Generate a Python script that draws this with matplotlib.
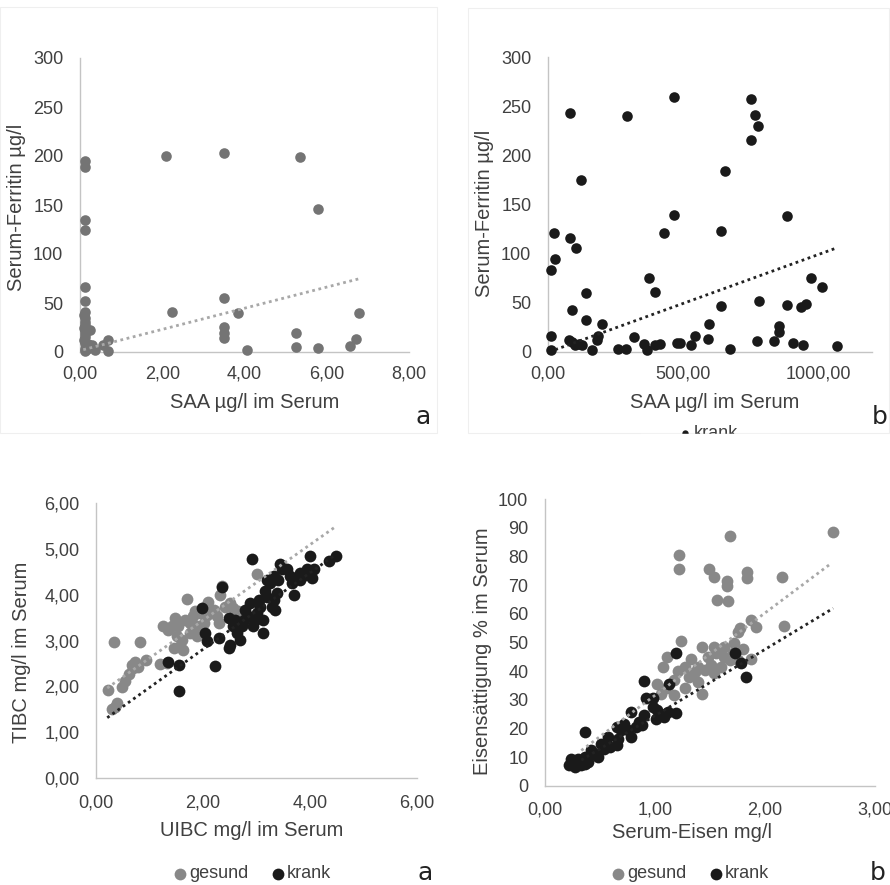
import matplotlib.pyplot as plt
from matplotlib.patches import Rectangle
import numpy as np

plt.rcParams['font.family'] = ['Liberation Sans', 'DejaVu Sans']

# ---- panel a (top left): SAA vs ferritin, gesund
a_saa = [0.12, 0.12, 0.12, 0.12, 0.12, 0.12, 0.12,
         0.10, 0.11, 0.12, 0.13, 0.10, 0.12, 0.11, 0.13, 0.10, 0.12, 0.14, 0.11, 0.13,
         0.18, 0.24, 0.20, 0.28, 0.36, 0.57, 0.69, 0.69,
         2.08, 2.24, 3.51, 3.51, 3.51, 3.51, 3.51, 3.83, 4.07, 5.34, 5.25, 5.25,
         5.79, 5.79, 6.56, 6.70, 6.79]
a_fer = [194.5, 189, 135, 124.6, 66.5, 52, 41,
         38, 35, 31, 28, 25, 21, 18, 15, 12, 9, 6, 3, 1,
         3, 22, 8, 7, 2, 7, 12, 1,
         200, 41, 203, 55.6, 26, 19.5, 14, 40, 2, 198.6, 19, 5,
         145.7, 4, 6, 13, 40]
a_trend = (10.79, 1.5, 0.08, 6.78)   # slope, intercept, x from, x to

# ---- panel b (top right): SAA vs ferritin, krank
b_saa = [12, 21, 25, 12, 12, 83, 80, 105, 90, 121, 142, 142, 76, 89, 99, 113, 126,
         163, 181, 185, 200, 258, 290, 292, 320, 354, 367, 375, 397, 397, 416, 431,
         465, 465, 478, 490, 530, 543, 591, 597, 642, 642, 654, 675, 753, 765, 778,
         753, 780, 774, 836, 854, 854, 885, 885, 906, 943, 937, 956, 975, 1013, 1070]
b_fer = [83, 121, 95, 16, 2.4, 243, 116, 106, 42.5, 175, 60, 33, 12, 10, 7, 8.5, 7,
         1.7, 12, 16, 28, 3.4, 3.4, 240.5, 15, 8, 2.4, 75, 61, 7, 8.5, 121,
         259, 139, 9, 9, 7, 16, 13, 28, 47, 123, 184, 3.4, 257.5, 241.5, 229.6,
         216, 52, 11, 11, 26, 20, 138, 48, 9.5, 7, 46, 49, 75, 66, 6]
b_trend = (0.0993, -0.3, 27, 1064)

# ---- panel c (bottom left): UIBC vs TIBC
c_g_uibc = [0.23, 0.34, 0.82, 0.29, 0.39, 0.35, 0.48, 0.54, 0.61, 0.67, 0.73, 0.70, 0.79,
            0.94, 1.20, 1.32, 1.35, 1.42, 1.48, 1.54, 1.51, 1.60, 1.63, 1.57, 1.70, 1.67,
            1.76, 1.82, 1.88, 1.95, 2.01, 2.04, 2.10, 2.20, 2.26, 2.29, 2.32, 2.35, 2.41,
            2.51, 2.57, 2.65, 3.01, 1.85, 2.07, 1.76, 1.88, 1.26, 1.45]
c_g_tibc = [1.93, 2.96, 2.96, 1.50, 1.63, 1.56, 1.99, 2.12, 2.28, 2.47, 2.54, 2.39, 2.43,
            2.58, 2.48, 2.50, 3.23, 3.31, 3.49, 3.32, 3.09, 3.01, 2.80, 2.87, 3.90, 3.45,
            3.38, 3.53, 3.31, 3.60, 3.38, 3.74, 3.85, 3.67, 3.53, 3.38, 4.00, 4.18, 3.74,
            3.82, 3.71, 3.64, 4.45, 3.64, 3.56, 3.16, 3.09, 3.31, 2.83]
c_k_uibc = [1.55, 1.55, 1.35, 2.23, 1.98, 2.04, 2.07, 2.29, 2.35, 2.48, 2.51, 2.48, 2.57,
            2.63, 2.69, 2.72, 2.79, 2.85, 2.91, 2.94, 2.98, 3.01, 3.04, 3.07, 3.13, 3.16,
            3.19, 3.26, 3.29, 3.32, 3.35, 3.38, 3.44, 3.47, 3.63, 3.66, 3.70, 3.82, 3.91,
            4.00, 4.04, 4.07, 4.35, 4.48, 2.76, 2.88, 2.60, 3.13, 3.32, 3.19, 3.41, 3.57,
            3.95, 3.82]
c_k_tibc = [1.90, 2.47, 2.54, 2.45, 3.72, 3.16, 2.98, 3.05, 4.17, 2.83, 2.91, 3.49, 3.31,
            3.16, 3.01, 3.31, 3.67, 3.53, 4.77, 3.31, 3.45, 3.60, 3.89, 3.74, 3.45, 4.07,
            4.33, 4.26, 3.74, 4.40, 3.67, 4.04, 4.66, 4.55, 4.40, 4.26, 4.00, 4.47, 4.44,
            4.84, 4.36, 4.55, 4.73, 4.85, 3.45, 3.82, 3.45, 3.16, 3.89, 3.96, 4.33, 4.55,
            4.55, 4.33]
c_g_trend = (0.825, 1.79, 0.21, 4.50)
c_k_trend = (0.834, 1.14, 0.21, 4.44)

# ---- panel d (bottom right): serum iron vs saturation
d_g_fe = [2.62, 1.68, 1.22, 1.22, 1.49, 1.54, 1.65, 1.65, 1.84, 1.84, 2.15, 1.56, 1.66,
          1.87, 1.92, 2.17, 1.77, 1.75, 1.72, 1.24, 1.87, 1.80, 1.05, 1.11, 1.17, 1.07,
          1.11, 1.27, 1.33, 1.39, 1.39, 1.43, 1.43, 1.48, 1.51, 1.55, 1.60, 1.63, 1.68,
          1.71, 1.21, 1.27, 1.31, 1.36, 1.45, 1.54, 1.02, 1.17, 1.54, 1.63, 1.75]
d_g_sat = [88.6, 87.2, 80.5, 75.5, 75.5, 72.9, 71.5, 69.7, 74.7, 72.3, 72.7, 64.8, 64.5,
           57.8, 55.5, 55.8, 55.1, 53.7, 49.7, 50.6, 44.4, 47.9, 32.2, 34.0, 31.6, 41.3,
           45.0, 34.0, 44.4, 41.3, 36.3, 32.2, 48.5, 45.0, 42.1, 46.2, 41.5, 48.5, 43.8,
           46.2, 40.2, 41.5, 38.0, 39.8, 40.3, 39.2, 35.7, 36.9, 48.5, 45.0, 43.8]
d_k_fe = [1.19, 1.73, 1.78, 1.83, 0.90, 1.13, 0.92, 0.98, 1.01, 1.08, 1.12, 1.19, 0.36,
          0.78, 0.90, 0.65, 0.66, 0.72, 0.78, 0.83, 0.65, 0.51, 0.48, 0.42, 0.36, 0.30,
          0.24, 0.27, 0.33, 0.39, 0.45, 0.57, 0.69, 0.75, 0.85, 0.88, 0.59, 0.54, 0.22,
          0.25, 0.30, 0.36, 1.02, 0.98]
d_k_sat = [46.4, 46.5, 42.7, 38.0, 36.5, 35.7, 30.5, 27.6, 23.5, 24.1, 25.8, 25.5, 18.8,
           25.8, 24.7, 20.6, 16.5, 21.7, 17.1, 20.6, 14.2, 14.8, 10.1, 12.4, 10.1, 7.8,
           9.5, 6.6, 7.2, 8.4, 11.3, 17.1, 19.4, 19.4, 22.4, 21.2, 13.6, 13.0, 7.2,
           8.4, 9.5, 7.8, 26.4, 30.5]
d_g_trend = (28.7, 2.9, 0.33, 2.60)
d_k_trend = (23.1, 1.4, 0.33, 2.62)

GRAY = '#888888'
BLACK = '#1a1a1a'
TXT = '#404040'

W, H = 890, 885


def box(l, r, t, b):
    return [l / W, 1 - b / H, (r - l) / W, (b - t) / H]


def pt(x, y):
    return (x / W, 1 - y / H)


def comma(v, d=2):
    return f'{v:.{d}f}'.replace('.', ',')


def setup(ax, xlim, ylim, xticks, yticks, ydec, xpad, ypad):
    ax.set_xlim(xlim)
    ax.set_ylim(ylim)
    ax.set_xticks(xticks)
    ax.set_yticks(yticks)
    ax.set_xticklabels([comma(v, 2) for v in xticks])
    ax.set_yticklabels([comma(v, ydec) for v in yticks])
    ax.tick_params(length=0, labelsize=13, labelcolor=TXT)
    ax.tick_params(axis='x', pad=xpad)
    ax.tick_params(axis='y', pad=ypad)
    for s in ['top', 'right']:
        ax.spines[s].set_visible(False)
    for s in ['left', 'bottom']:
        ax.spines[s].set_color('#c4c4c4')
        ax.spines[s].set_linewidth(1.0)


def trend(ax, coef, color):
    xs = np.array([coef[2], coef[3]])
    ax.plot(xs, coef[0] * xs + coef[1], color=color, lw=2.0,
            linestyle=(0, (1, 1.3)), zorder=4, clip_on=False)


fig = plt.figure(figsize=(8.9, 8.85), dpi=100)

# faint frames of the two upper images
fig.add_artist(Rectangle(pt(0, 433), 437 / W, 426 / H, fill=False,
                         ec='#efefef', lw=0.8))
fig.add_artist(Rectangle(pt(468, 433), 421 / W, 425 / H, fill=False,
                         ec='#efefef', lw=0.8))

# panel a
ax1 = fig.add_axes(box(80, 409, 58, 352))
setup(ax1, (0, 8), (0, 300), [0, 2, 4, 6, 8], range(0, 301, 50), 0, 10, 12)
ax1.scatter(a_saa, a_fer, s=58, color='#747474', zorder=3, clip_on=False, lw=0)
trend(ax1, a_trend, '#a8a8a8')
fig.text(*pt(255, 403), 'SAA µg/l im Serum', ha='center', va='center',
         fontsize=14.5, color=TXT)
fig.text(*pt(17, 207), 'Serum-Ferritin µg/l', ha='center', va='center',
         rotation=90, fontsize=14.5, color=TXT)
fig.text(*pt(423, 417), 'a', ha='center', va='center', fontsize=18,
         color='#222222', family='DejaVu Sans')

# panel b
ax2 = fig.add_axes(box(548, 872, 57, 352))
setup(ax2, (0, 1200), (0, 300), [0, 500, 1000], range(0, 301, 50), 0, 10, 12)
sb = ax2.scatter(b_saa, b_fer, s=58, color=BLACK, zorder=3, clip_on=False, lw=0)
trend(ax2, b_trend, '#222222')
fig.text(*pt(715, 403), 'SAA µg/l im Serum', ha='center', va='center',
         fontsize=14.5, color=TXT)
fig.text(*pt(485, 213), 'Serum-Ferritin µg/l', ha='center', va='center',
         rotation=90, fontsize=14.5, color=TXT)
fig.text(*pt(880, 417), 'b', ha='center', va='center', fontsize=18,
         color='#222222', family='DejaVu Sans')
fig.legend([sb], ['krank'], loc='center', bbox_to_anchor=pt(708, 433),
           frameon=False, fontsize=13, handletextpad=0.1, handlelength=0.8,
           markerscale=0.6, labelcolor=TXT, borderpad=0)
# the source image is cropped right through this legend
fig.add_artist(Rectangle(pt(640, 455), 140 / W, 21 / H, color='white',
                         zorder=10))

# panel c
ax3 = fig.add_axes(box(96, 417, 503, 778))
setup(ax3, (0, 6), (0, 6), [0, 2, 4, 6], range(0, 7), 2, 12, 12)
g3 = ax3.scatter(c_g_uibc, c_g_tibc, s=72, color=GRAY, zorder=3, lw=0)
k3 = ax3.scatter(c_k_uibc, c_k_tibc, s=72, color=BLACK, zorder=3, lw=0)
trend(ax3, c_g_trend, '#a8a8a8')
trend(ax3, c_k_trend, '#222222')
fig.text(*pt(252, 830), 'UIBC mg/l im Serum', ha='center', va='center',
         fontsize=14.5, color=TXT)
fig.text(*pt(22, 652), 'TIBC mg/l im Serum', ha='center', va='center',
         rotation=90, fontsize=14.5, color=TXT)
fig.legend([g3, k3], ['gesund', 'krank'], loc='center', ncol=2,
           bbox_to_anchor=pt(252, 874), frameon=False, fontsize=13,
           handletextpad=0.1, handlelength=0.8, columnspacing=1.2,
           labelcolor=TXT, borderpad=0)
fig.text(*pt(425, 873), 'a', ha='center', va='center', fontsize=18,
         color='#222222', family='DejaVu Sans')

# panel d
ax4 = fig.add_axes(box(545, 875, 499, 786))
setup(ax4, (0, 3), (0, 100), [0, 1, 2, 3], range(0, 101, 10), 0, 11, 12)
g4 = ax4.scatter(d_g_fe, d_g_sat, s=72, color=GRAY, zorder=3, lw=0)
k4 = ax4.scatter(d_k_fe, d_k_sat, s=72, color=BLACK, zorder=3, lw=0)
trend(ax4, d_g_trend, '#a8a8a8')
trend(ax4, d_k_trend, '#222222')
fig.text(*pt(692, 832), 'Serum-Eisen mg/l', ha='center', va='center',
         fontsize=14.5, color=TXT)
fig.text(*pt(483, 651), 'Eisensättigung % im Serum', ha='center', va='center',
         rotation=90, fontsize=14.5, color=TXT)
fig.legend([g4, k4], ['gesund', 'krank'], loc='center', ncol=2,
           bbox_to_anchor=pt(690, 874), frameon=False, fontsize=13,
           handletextpad=0.1, handlelength=0.8, columnspacing=1.2,
           labelcolor=TXT, borderpad=0)
fig.text(*pt(878, 873), 'b', ha='center', va='center', fontsize=18,
         color='#222222', family='DejaVu Sans')

fig.savefig('out.png', dpi=100)
